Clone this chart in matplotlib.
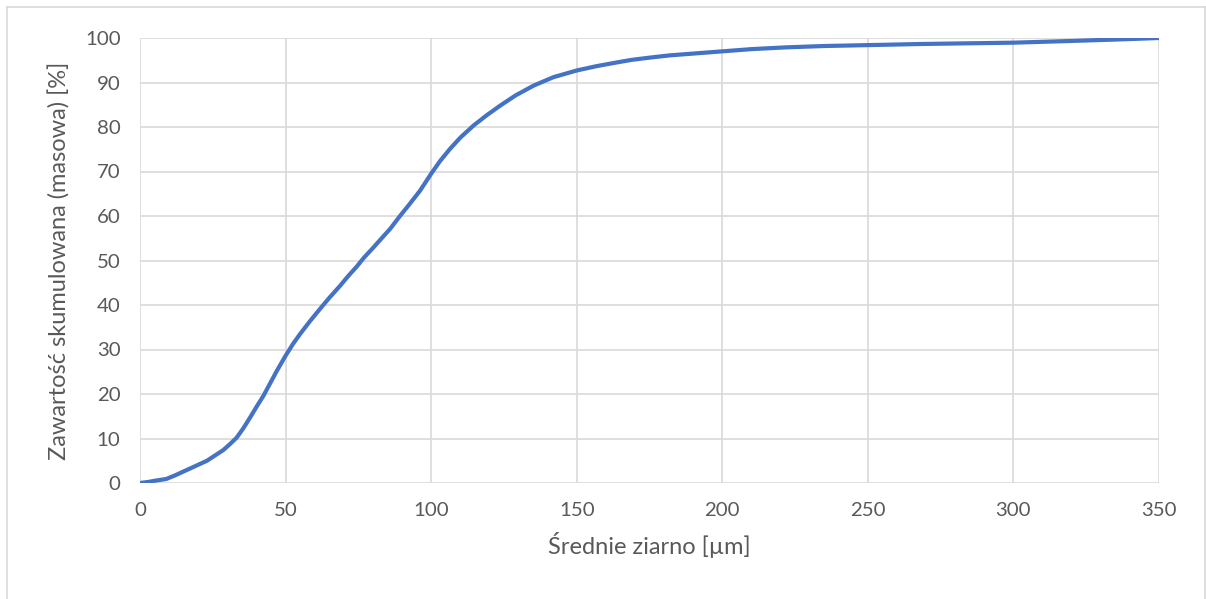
import matplotlib
matplotlib.use("Agg")
import matplotlib.pyplot as plt
from matplotlib.lines import Line2D

# values
grain = [0, 3, 5, 9, 12, 15, 19, 23, 28.6, 31, 33.2, 35.5, 37.8, 40, 42.4,
         44.7, 47, 50, 52.5, 55, 58.3, 61.8, 65, 68.7, 71.5, 74.4, 77, 80,
         83, 85.9, 89.3, 92.5, 96.2, 100, 103, 106.5, 110, 114.5, 119, 123.7,
         129, 135.2, 142, 150, 157, 163.7, 169, 175.2, 182, 190, 200, 210,
         222, 235, 250, 268, 300, 318, 335, 350]
cumulative = [0, 0.25, 0.5, 0.9, 1.7, 2.6, 3.8, 5.0, 7.4, 8.8, 10.2, 12.3,
              14.7, 17.1, 19.6, 22.4, 25.2, 28.6, 31.2, 33.5, 36.3, 39.1,
              41.6, 44.3, 46.5, 48.6, 50.7, 52.8, 55.0, 57.1, 60.0, 62.6,
              65.7, 69.5, 72.3, 75.1, 77.6, 80.3, 82.6, 84.8, 87.1, 89.3,
              91.2, 92.7, 93.7, 94.5, 95.1, 95.6, 96.1, 96.5, 97.0, 97.5,
              97.9, 98.2, 98.4, 98.65, 98.95, 99.3, 99.65, 100]

x_ticks = [0, 50, 100, 150, 200, 250, 300, 350]
y_ticks = [0, 10, 20, 30, 40, 50, 60, 70, 80, 90, 100]

plt.rcParams['font.family'] = ['Lato', 'DejaVu Sans']

fig = plt.figure(figsize=(12.06, 5.99), dpi=100)
ax = fig.add_axes([140 / 1206, 1 - 483 / 599, 1019 / 1206, 445 / 599])

ax.plot(grain, cumulative, color='#4472C4', linewidth=3.0,
        solid_capstyle='butt', solid_joinstyle='round', zorder=3)

ax.set_xlim(0, 350)
ax.set_ylim(0, 100)
ax.set_xticks(x_ticks)
ax.set_yticks(y_ticks)
ax.grid(True, color='#D9D9D9', linewidth=1.2)
ax.set_axisbelow(True)
for s in ax.spines.values():
    s.set_visible(False)
ax.tick_params(axis='both', length=0, labelsize=14.7, labelcolor='#595959')
ax.tick_params(axis='x', pad=14)
ax.tick_params(axis='y', pad=14)

ax.set_xlabel('Średnie ziarno [µm]', fontsize=17, color='#595959', labelpad=9)
ax.set_ylabel('Zawartość skumulowana (masowa) [%]', fontsize=17,
              color='#595959', labelpad=10)

# outer chart border
W, H = 1206, 599
border = [((7, 7), (7, 600)), ((7, 7), (1205, 7)), ((1205, 7), (1205, 600))]
for (x0, y0), (x1, y1) in border:
    fig.add_artist(Line2D([x0 / W, x1 / W], [1 - y0 / H, 1 - y1 / H],
                          color='#D9D9D9', linewidth=1.2))

fig.savefig('out.png', dpi=100)
